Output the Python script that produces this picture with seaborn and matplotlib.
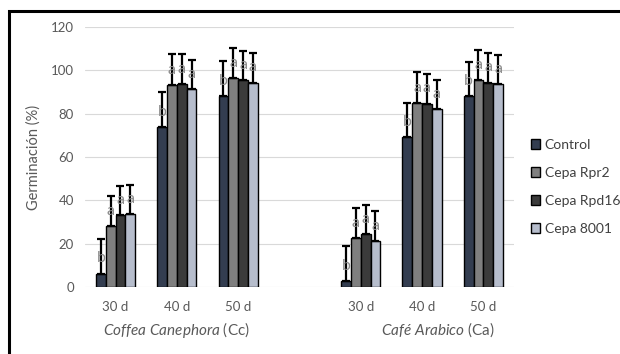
import pandas as pd
import matplotlib
matplotlib.use("Agg")
import matplotlib.pyplot as plt
from matplotlib.patches import Rectangle
import seaborn as sns

# categories (empty slot separates the two coffee species)
categories = ["Cc 30", "Cc 40", "Cc 50", "gap", "Ca 30", "Ca 40", "Ca 50"]
tick_labels = ["30 d", "40 d", "50 d", "", "30 d", "40 d", "50 d"]
bar_cats = ["Cc 30", "Cc 40", "Cc 50", "Ca 30", "Ca 40", "Ca 50"]
treatments = ["Control", "Cepa Rpr2", "Cepa Rpd16", "Cepa 8001"]

# mean germination (%) per treatment, in bar_cats order
control = [6.2, 73.7, 88.2, 2.6, 69.2, 88.2]
rpr2 = [28.0, 93.2, 96.3, 22.5, 84.9, 95.4]
rpd16 = [33.2, 93.8, 95.4, 24.5, 84.6, 94.3]
c8001 = [33.7, 91.4, 94.3, 21.4, 82.0, 93.5]

# upper end of error bars
control_top = [22.3, 89.8, 104.3, 18.9, 84.9, 104.0]
rpr2_top = [42.2, 107.5, 110.5, 36.5, 99.2, 109.5]
rpd16_top = [46.8, 107.5, 108.9, 38.0, 98.2, 108.0]
c8001_top = [47.0, 104.6, 107.8, 34.9, 95.4, 107.0]

# significance letters
control_letters = ["b"] * 6
other_letters = ["a"] * 6

means = [control, rpr2, rpd16, c8001]
tops = [control_top, rpr2_top, rpd16_top, c8001_top]
letters = [control_letters, other_letters, other_letters, other_letters]

rows = []
for t, vals in zip(treatments, means):
    for c, v in zip(bar_cats, vals):
        rows.append({"cat": c, "treatment": t, "value": v})
df = pd.DataFrame(rows)

colors = ["#2e3b55", "#7f7f7f", "#3b3b3b", "#b3bccf"]

sns.set_style("white")
plt.rcParams["font.family"] = ["Lato", "DejaVu Sans"]
plt.rcParams["mathtext.fontset"] = "custom"
plt.rcParams["mathtext.it"] = "Lato:italic"
plt.rcParams["mathtext.rm"] = "Lato"

fig = plt.figure(figsize=(6.2, 3.54), dpi=100)
ax = fig.add_axes([0.137, 0.189, 0.692, 0.735])

sns.barplot(data=df, x="cat", y="value", hue="treatment", order=categories,
            hue_order=treatments, palette=colors, width=0.64,
            edgecolor="black", linewidth=1.0, errorbar=None, ax=ax, zorder=2)

for cont, top_vals, lets in zip(ax.containers, tops, letters):
    xs = [b.get_x() + b.get_width() / 2 for b in cont]
    hs = [b.get_height() for b in cont]
    errs = [t - h for t, h in zip(top_vals, hs)]
    ax.errorbar(xs, hs, yerr=[[0] * len(hs), errs], fmt="none", ecolor="black",
                elinewidth=1.6, capsize=3, capthick=1.6, zorder=3)
    for x, h, l in zip(xs, hs, lets):
        ax.text(x, h + 7, l, ha="center", va="center", fontsize=11.5,
                color="#8c8c8c", zorder=5)

ax.set_ylim(0, 120)
ax.set_yticks(range(0, 121, 20))
ax.set_xlim(-0.5, len(categories) - 0.5)
ax.set_xticks(range(len(categories)))
ax.set_xticklabels(tick_labels)
ax.yaxis.grid(True, color="#d9d9d9", linewidth=0.8)
ax.set_axisbelow(True)
for s in ax.spines.values():
    s.set_visible(False)
ax.tick_params(axis="both", length=0, labelsize=9.5, labelcolor="#595959", pad=8)
ax.tick_params(axis="x", pad=10)
ax.set_xlabel("")
ax.set_ylabel("Germinación (%)", fontsize=10.5, color="#595959", labelpad=7)

ax.annotate(r"$\mathit{Coffea\ Canephora}$ (Cc)", xy=(1, 0), xycoords=("data", "axes fraction"),
            xytext=(0, -31), textcoords="offset points", ha="center", va="center",
            fontsize=11, color="#595959")
ax.annotate(r"$\mathit{Café\ Arabico}$ (Ca)", xy=(5.25, 0), xycoords=("data", "axes fraction"),
            xytext=(0, -31), textcoords="offset points", ha="center", va="center",
            fontsize=11, color="#595959")

ax.legend(loc="center left", bbox_to_anchor=(1.01, 0.385), frameon=False,
          fontsize=10, handlelength=0.7, handleheight=0.7, handletextpad=0.3,
          labelspacing=1.15, labelcolor="#404040")

fig.patches.append(Rectangle((0.015, -0.1), 1.2, 1.069, transform=fig.transFigure,
                             fill=False, edgecolor="black", linewidth=2.2))

fig.savefig("out.png", dpi=100, facecolor="white")
